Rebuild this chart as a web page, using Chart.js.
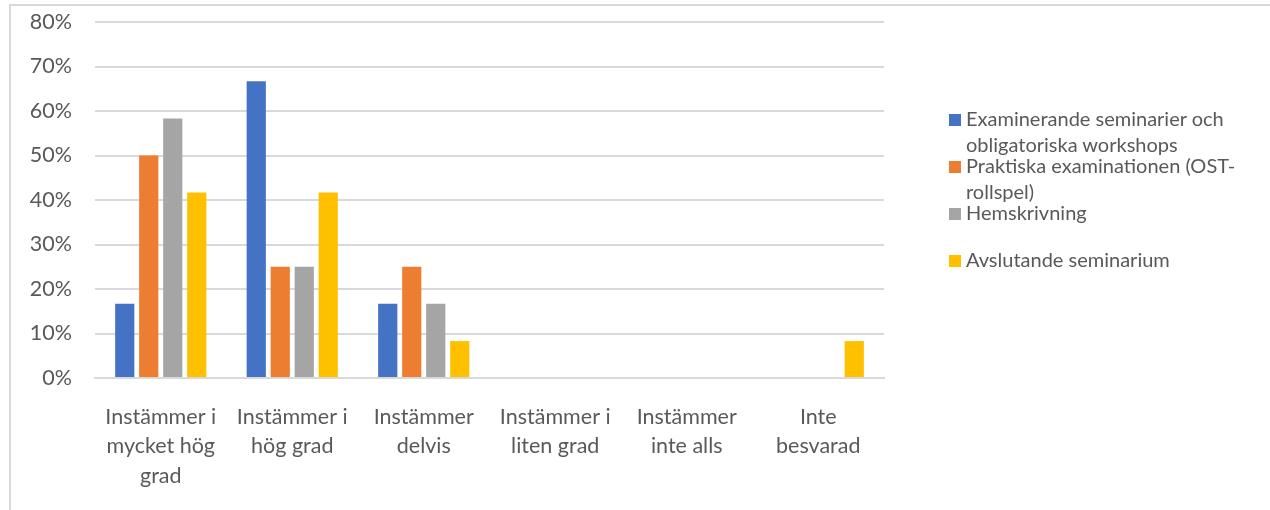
<!DOCTYPE html>
<html>
<head>
<meta charset="utf-8">
<script src="https://cdn.jsdelivr.net/npm/chart.js@4"></script>
<style>
  html, body { margin: 0; padding: 0; background: #fff; }
  #wrap { position: relative; width: 1270px; height: 510px; overflow: hidden; }
  #frame { position: absolute; left: 9px; top: 4px; right: -5px; bottom: -5px;
           border-left: 2px solid #d9d9d9; border-top: 2px solid #d9d9d9; }
  #chart { position: absolute; left: 0; top: 0; }
  #legend { position: absolute; left: 949px; top: 106px; font-family: Lato, sans-serif;
            font-size: 20px; color: #595959; }
  .item { position: relative; height: 47px; padding-left: 17px; line-height: 25.5px; }
  .sw { position: absolute; left: 0; top: 8px; width: 12px; height: 12px; }
</style>
</head>
<body>
<div id="wrap">
  <div id="frame"></div>
  <canvas id="chart" width="1270" height="510"></canvas>
  <div id="legend"></div>
</div>
<script>
const categories = [
  ["Instämmer i", "mycket hög", "grad"],
  ["Instämmer i", "hög grad"],
  ["Instämmer", "delvis"],
  ["Instämmer i", "liten grad"],
  ["Instämmer", "inte alls"],
  ["Inte", "besvarad"]
];
const seriesNames = [
  "Examinerande seminarier och obligatoriska workshops",
  "Praktiska examinationen (OST-rollspel)",
  "Hemskrivning",
  "Avslutande seminarium"
];
// legend lines as wrapped in the picture
const legendLines = [
  ["Examinerande seminarier och", "obligatoriska workshops"],
  ["Praktiska examinationen (OST-", "rollspel)"],
  ["Hemskrivning"],
  ["Avslutande seminarium"]
];
const examinerande = [16.7, 66.7, 16.7, 0, 0, 0];
const praktiska = [50, 25, 25, 0, 0, 0];
const hemskrivning = [58.3, 25, 16.7, 0, 0, 0];
const avslutande = [41.7, 41.7, 8.3, 0, 0, 8.3];
const colors = ["#4472c4", "#ed7d31", "#a5a5a5", "#ffc000"];
const yTicks = [0, 10, 20, 30, 40, 50, 60, 70, 80];

const allValues = [examinerande, praktiska, hemskrivning, avslutande];

const ctx = document.getElementById("chart").getContext("2d");
const chart = new Chart(ctx, {
  type: "bar",
  data: {
    labels: categories,
    datasets: allValues.map((vals, i) => ({
      label: seriesNames[i],
      data: vals,
      backgroundColor: colors[i],
      borderWidth: 0,
      barPercentage: 0.8,
      categoryPercentage: 0.73
    }))
  },
  options: {
    responsive: false,
    animation: false,
    layout: { padding: { left: 11, right: 386, top: 22, bottom: 0 } },
    plugins: {
      legend: { display: false },
      tooltip: { enabled: false }
    },
    scales: {
      x: {
        grid: { display: false },
        border: { display: true, color: "#d9d9d9", width: 2 },
        ticks: {
          color: "#595959",
          font: { family: "Lato, sans-serif", size: 21.5, lineHeight: 1.35 },
          padding: 17,
          maxRotation: 0,
          autoSkip: false
        },
        afterFit(scale) { scale.height = 132; }
      },
      y: {
        min: 0,
        max: 80,
        afterBuildTicks(scale) { scale.ticks = yTicks.map(v => ({ value: v })); },
        grid: { color: "#d9d9d9", lineWidth: 2, drawTicks: false },
        border: { display: false },
        ticks: {
          color: "#595959",
          font: { family: "Lato, sans-serif", size: 21.5 },
          padding: 23,
          callback: v => v + "%"
        },
        afterFit(scale) {
          scale.width = 84;
          scale.paddingTop = 0;
          scale.paddingBottom = 0;
        }
      }
    }
  }
});

const legend = document.getElementById("legend");
legendLines.forEach((lines, i) => {
  const item = document.createElement("div");
  item.className = "item";
  item.innerHTML = '<span class="sw" style="background:' + colors[i] + '"></span>' + lines.join("<br>");
  legend.appendChild(item);
});
</script>
</body>
</html>
